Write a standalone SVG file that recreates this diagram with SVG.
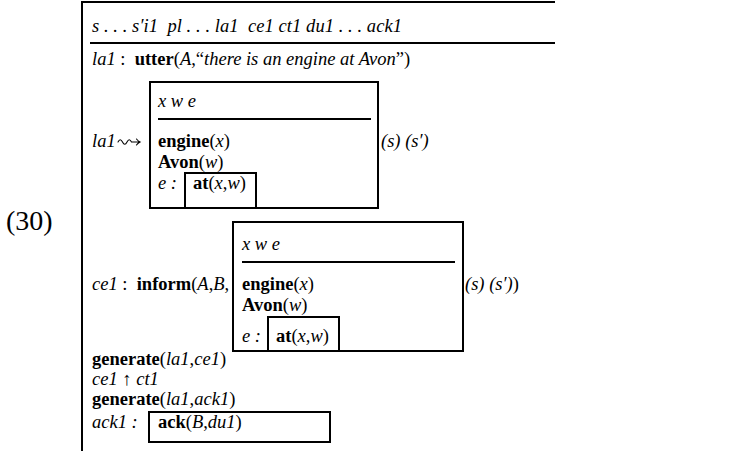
<svg xmlns="http://www.w3.org/2000/svg" width="754" height="451" viewBox="0 0 754 451">
<style>
text{font-family:"Liberation Serif","Times New Roman",serif;font-size:18.5px;fill:#000}
.i{font-style:italic}
.b{font-weight:bold}
.ar{fill:none;stroke:#000;stroke-width:1.1;stroke-linecap:round}
.f{fill:none;stroke:#000;stroke-width:2}
.l{stroke:#000;stroke-width:2}
</style>
<rect width="754" height="451" fill="#fff"/>
<text x="6" y="230" style="font-size:28px">(30)</text>
<g id="frame">
<line class="l" x1="82" y1="2" x2="82" y2="451"/>
<line class="l" x1="81" y1="2" x2="555" y2="2"/>
<line class="l" x1="90" y1="43" x2="555" y2="43"/>
<text x="92" y="32" class="i" xml:space="preserve" textLength="310" lengthAdjust="spacing">s . . . s′i1  pl . . . la1  ce1 ct1 du1 . . . ack1</text>
</g>
<g id="utter">
<text x="92" y="65" xml:space="preserve"><tspan class="i">la1</tspan> :  <tspan class="b">utter</tspan>(<tspan class="i">A</tspan>,“<tspan class="i">there is an engine at Avon</tspan>”)</text>
</g>
<g id="drs1">
<text x="92" y="147" class="i">la1</text>
<path class="ar" d="M118,142 c1.5,-3 3,-3 4.5,0 s3,3 4.5,0 s3,-3 4.5,0 L140,142 M136.5,139 q1.5,2 3.5,3 q-2,1 -3.5,3"/>
<rect class="f" x="150" y="82" width="228" height="126"/>
<text x="158" y="107" class="i">x w e</text>
<line class="l" x1="158" y1="119" x2="371" y2="119"/>
<text x="158" y="147"><tspan class="b">engine</tspan>(<tspan class="i">x</tspan>)</text>
<text x="158" y="168"><tspan class="b">Avon</tspan>(<tspan class="i">w</tspan>)</text>
<text x="158" y="189" class="i">e :</text>
<rect class="f" x="185" y="173" width="71" height="35"/>
<text x="193" y="189"><tspan class="b">at</tspan>(<tspan class="i">x</tspan>,<tspan class="i">w</tspan>)</text>
<text x="381" y="147" class="i">(s) (s′)</text>
</g>
<g id="drs2">
<text x="92" y="290" xml:space="preserve"><tspan class="i">ce1</tspan> :  <tspan class="b">inform</tspan>(<tspan class="i">A</tspan>,<tspan class="i">B</tspan>,</text>
<rect class="f" x="233" y="222" width="230" height="129"/>
<text x="242" y="250" class="i">x w e</text>
<line class="l" x1="242" y1="262" x2="455" y2="262"/>
<text x="242" y="290"><tspan class="b">engine</tspan>(<tspan class="i">x</tspan>)</text>
<text x="242" y="311"><tspan class="b">Avon</tspan>(<tspan class="i">w</tspan>)</text>
<text x="242" y="342" class="i">e :</text>
<rect class="f" x="268" y="317" width="71" height="34"/>
<text x="276" y="342"><tspan class="b">at</tspan>(<tspan class="i">x</tspan>,<tspan class="i">w</tspan>)</text>
<text x="465" y="290"><tspan class="i">(s) (s′)</tspan>)</text>
</g>
<g id="rest">
<text x="92" y="365"><tspan class="b">generate</tspan>(<tspan class="i">la1</tspan>,<tspan class="i">ce1</tspan>)</text>
<text x="92" y="385" class="i">ce1 ↑ ct1</text>
<text x="92" y="405"><tspan class="b">generate</tspan>(<tspan class="i">la1</tspan>,<tspan class="i">ack1</tspan>)</text>
<text x="92" y="428" class="i">ack1 :</text>
<rect class="f" x="149" y="412" width="181" height="30"/>
<text x="158" y="428"><tspan class="b">ack</tspan>(<tspan class="i">B</tspan>,<tspan class="i">du1</tspan>)</text>
</g>
</svg>
